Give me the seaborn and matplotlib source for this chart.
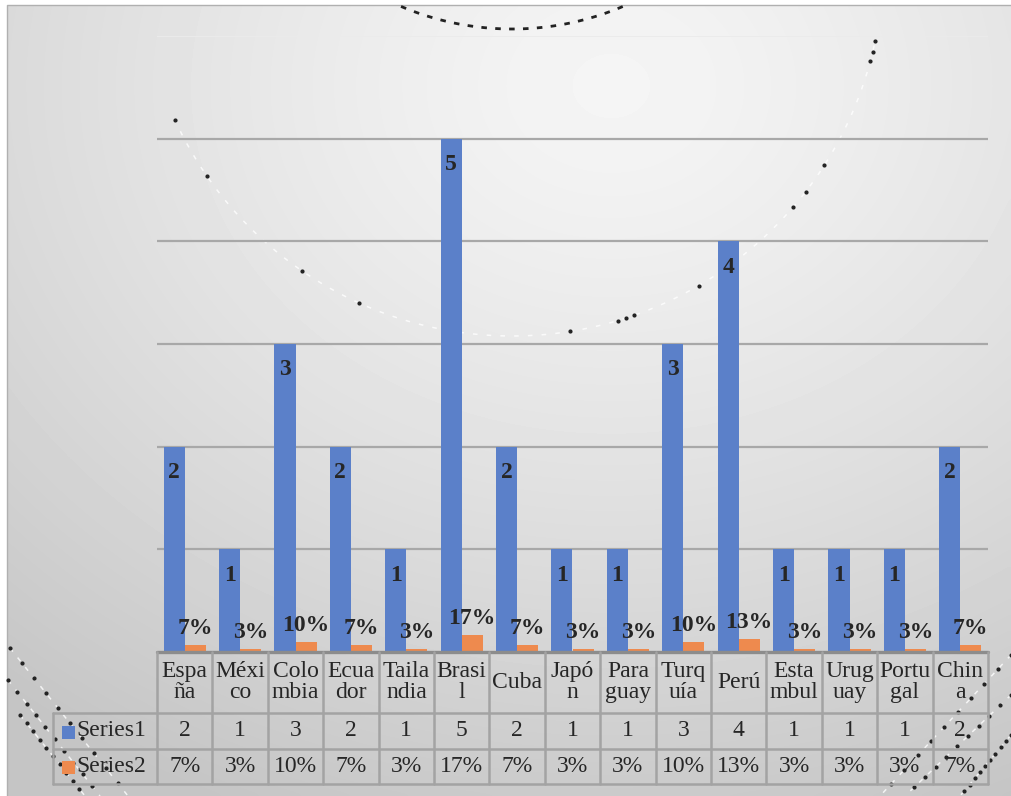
import numpy as np
import pandas as pd
import matplotlib
matplotlib.use("Agg")
import matplotlib.pyplot as plt
from matplotlib.patches import Rectangle
import seaborn as sns

# datos del grafico
paises = ["España", "México", "Colombia", "Ecuador", "Tailandia", "Brasil", "Cuba",
          "Japón", "Paraguay", "Turquía", "Perú", "Estambul", "Uruguay", "Portugal", "China"]
etiquetas = ["Espa\nña", "Méxi\nco", "Colo\nmbia", "Ecua\ndor", "Taila\nndia", "Brasi\nl", "Cuba",
             "Japó\nn", "Para\nguay", "Turq\nuía", "Perú", "Esta\nmbul", "Urug\nuay", "Portu\ngal", "Chin\na"]
series1 = [2, 1, 3, 2, 1, 5, 2, 1, 1, 3, 4, 1, 1, 1, 2]
series2 = [0.07, 0.03, 0.10, 0.07, 0.03, 0.17, 0.07, 0.03, 0.03, 0.10, 0.13, 0.03, 0.03, 0.03, 0.07]
nombres = ["Series1", "Series2"]
colores = ["#5b80c9", "#ee8a4e"]

df = pd.DataFrame({
    "pais": paises * 2,
    "serie": [nombres[0]] * len(paises) + [nombres[1]] * len(paises),
    "valor": series1 + series2,
})

sns.set_style("white")
plt.rcParams["font.family"] = "serif"
plt.rcParams["font.serif"] = ["Liberation Serif", "Times New Roman", "DejaVu Serif"]

W, H = 1011, 796
fig = plt.figure(figsize=(W / 100, H / 100), dpi=100)

# fondo degradado (coordenadas en pixeles)
bg = fig.add_axes([0, 0, 1, 1], zorder=-5)
bg.set_xlim(0, W)
bg.set_ylim(H, 0)
bg.set_axis_off()
yy, xx = np.mgrid[0:200, 0:250]
d = np.sqrt(((xx - 150) / 250) ** 2 + ((yy - 20) / 210) ** 2)
img = 0.96 - 0.19 * np.clip(d / 0.95, 0, 1) ** 1.3
bg.imshow(img, cmap="gray", vmin=0, vmax=1, aspect="auto", interpolation="bicubic",
          extent=(7, W, H, 5))
bg.plot([7, 7, W], [H, 5, 5], color="#b0b0b0", lw=1)

# adornos punteados del tema
t = np.radians(np.linspace(155.5, 11.5, 300))
bg.plot(512 + 371 * np.cos(t), -35 + 371 * np.sin(t), color="white", lw=1.1,
        ls=(0, (3, 6)), alpha=0.8)
ang = np.radians([155.3, 145.3, 124.4, 114.4, 81, 73.4, 72.1, 70.8, 59.8,
                  40.7, 37.7, 32.7, 15, 13.6, 11.8])
bg.plot(512 + 371 * np.cos(ang), -35 + 371 * np.sin(ang), ls="none", marker="o",
        ms=2.0, color="#222222")
t = np.radians(np.linspace(113, 67, 80))
bg.plot(512 + 284 * np.cos(t), -255 + 284 * np.sin(t), color="#222222", lw=2.0,
        ls=(0, (2, 3)))


def diagonal(x0, y0, x1, y1):
    x = np.linspace(x0, x1, 60)
    y = np.linspace(y0, y1, 60)
    bg.plot(x, y, color="white", lw=1.1, ls=(0, (3, 5)), alpha=0.8)
    bg.plot(x[::6], y[::6], ls="none", marker="o", ms=2.0, color="#222222")


for seg in [(10, 648, 128, 796), (8, 680, 100, 796), (20, 715, 85, 796),
            (1011, 655, 880, 796), (1011, 695, 905, 796), (1011, 735, 960, 796)]:
    diagonal(*seg)

ax = fig.add_axes([157 / W, (H - 652) / H, 831 / W, 616 / H])
ax.set_facecolor("none")
sns.barplot(data=df, x="pais", y="valor", hue="serie", palette=colores,
            width=0.76, gap=0, saturation=1, linewidth=0, legend=False, ax=ax, zorder=3)
ax.set_xlim(-0.5, len(paises) - 0.5)
ax.set_ylim(0, 6)
for v in range(1, 6):
    ax.axhline(v, color="#a8a8a8", lw=1.6, zorder=1)
ax.axhline(6, color="#ebebeb", lw=1.4, zorder=1)
ax.set_xticks([])
ax.set_yticks([])
ax.set_xlabel("")
ax.set_ylabel("")
sns.despine(ax=ax, left=True, bottom=True)

# etiquetas de datos
for bar, v in zip(ax.containers[0], series1):
    ax.annotate(f"{v}", (bar.get_x() + bar.get_width() / 2, bar.get_height()),
                xytext=(0, -11), textcoords="offset points", ha="center", va="top",
                fontsize=17, fontweight="bold", zorder=5)
for bar, v in zip(ax.containers[1], series2):
    ax.annotate(f"{v:.0%}", (bar.get_x() + bar.get_width() / 2, bar.get_height()),
                xytext=(0, 4), textcoords="offset points", ha="center", va="bottom",
                fontsize=17, fontweight="bold", zorder=5)

# tabla de datos
tr = ax.get_xaxis_transform()
n = len(paises)
left_col = -2.377
y_head, y_s1, y_s2 = -0.099, -0.157, -0.214
lc = "#a3a3a3"
kw = dict(transform=tr, clip_on=False, color=lc, lw=1.8, zorder=4)
ax.plot([-0.5, n - 0.5], [0, 0], color="#8c8c8c", lw=2.4, transform=tr, clip_on=False, zorder=4)
for yv in (y_head, y_s1, y_s2):
    ax.plot([left_col, n - 0.5], [yv, yv], **kw)
for k in range(n + 1):
    ax.plot([k - 0.5, k - 0.5], [0, y_s2], **kw)
ax.plot([left_col, left_col], [y_head, y_s2], **kw)

for i, lab in enumerate(etiquetas):
    ax.text(i, y_head / 2, lab, transform=tr, ha="center", va="center",
            fontsize=17, linespacing=1.0)
    ax.text(i, (y_head + y_s1) / 2, f"{series1[i]}", transform=tr,
            ha="center", va="center", fontsize=17)
    ax.text(i, (y_s1 + y_s2) / 2, f"{series2[i]:.0%}", transform=tr,
            ha="center", va="center", fontsize=17)

for j, (nom, col) in enumerate(zip(nombres, colores)):
    yc = [(y_head + y_s1) / 2, (y_s1 + y_s2) / 2][j]
    ax.add_patch(Rectangle((-2.215, yc - 0.0125), 0.235, 0.021, transform=tr,
                           facecolor=col, edgecolor="none", clip_on=False, zorder=4))
    ax.text(-1.96, yc, nom, transform=tr, ha="left", va="center", fontsize=17)

fig.savefig("out.png", dpi=100)
